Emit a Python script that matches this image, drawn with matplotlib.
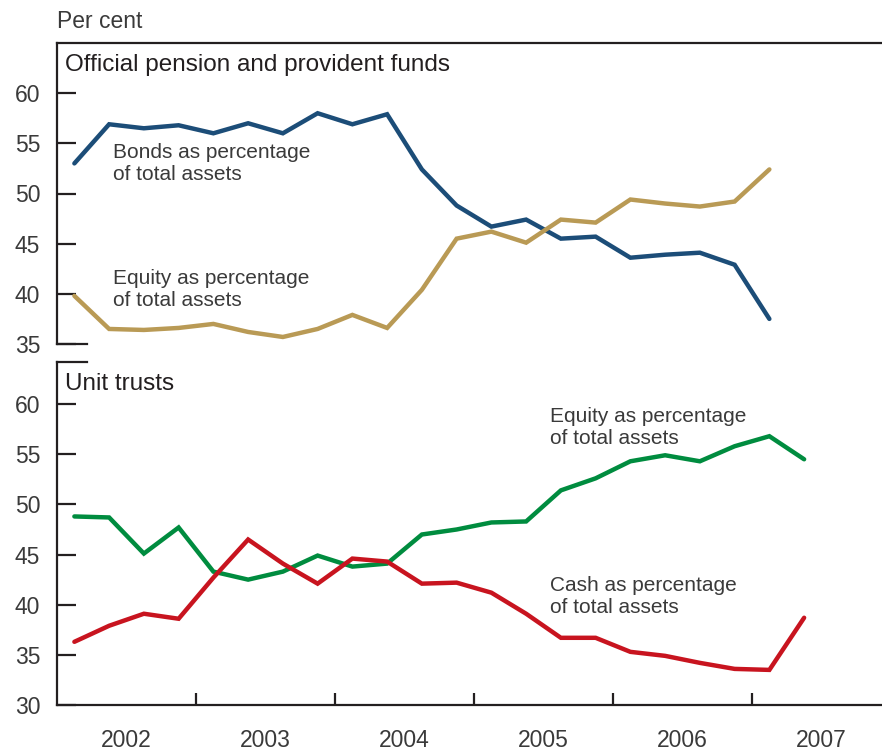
import numpy as np
import matplotlib
matplotlib.use('Agg')
import matplotlib.pyplot as plt

plt.rcParams['font.family'] = ['Liberation Sans', 'DejaVu Sans']

# quarterly observations, 2002 Q1 onwards
quarters_top = ['2002Q1', '2002Q2', '2002Q3', '2002Q4', '2003Q1', '2003Q2', '2003Q3',
                '2003Q4', '2004Q1', '2004Q2', '2004Q3', '2004Q4', '2005Q1', '2005Q2',
                '2005Q3', '2005Q4', '2006Q1', '2006Q2', '2006Q3', '2006Q4', '2007Q1']
quarters_bottom = quarters_top + ['2007Q2']

# official pension and provident funds
pension_bonds = [53.0, 56.9, 56.5, 56.8, 56.0, 57.0, 56.0, 58.0, 56.9, 57.9, 52.4,
                 48.8, 46.7, 47.4, 45.5, 45.7, 43.6, 43.9, 44.1, 42.9, 37.5]
pension_equity = [39.8, 36.5, 36.4, 36.6, 37.0, 36.2, 35.7, 36.5, 37.9, 36.6, 40.4,
                  45.5, 46.2, 45.1, 47.4, 47.1, 49.4, 49.0, 48.7, 49.2, 52.4]

# unit trusts
unit_equity = [48.8, 48.7, 45.1, 47.7, 43.3, 42.5, 43.3, 44.9, 43.8, 44.1, 47.0,
               47.5, 48.2, 48.3, 51.4, 52.6, 54.3, 54.9, 54.3, 55.8, 56.8, 54.5]
unit_cash = [36.3, 37.9, 39.1, 38.6, 42.7, 46.5, 44.1, 42.1, 44.6, 44.3, 42.1,
             42.2, 41.2, 39.1, 36.7, 36.7, 35.3, 34.9, 34.2, 33.6, 33.5, 38.7]

years = ['2002', '2003', '2004', '2005', '2006', '2007']


def to_year(q):
    # middle of the quarter
    return int(q[:4]) + (int(q[-1]) - 0.5) / 4.0


BLUE = '#1c4d78'
GOLD = '#b99a55'
GREEN = '#008c3f'
RED = '#c8141f'
INK = '#231f20'
TXT = '#3a3a3a'

W, H = 882.0, 751.0
fig = plt.figure(figsize=(W / 100, H / 100), dpi=100)
ax1 = fig.add_axes([57 / W, 1 - 344 / H, 825 / W, 301 / H])
ax2 = fig.add_axes([57 / W, 1 - 705 / H, 825 / W, 343 / H])

xlim = (2002.0, 2002.0 + 825 / 139.0)

x_top = [to_year(q) for q in quarters_top]
x_bot = [to_year(q) for q in quarters_bottom]

lk = dict(lw=3.2, solid_capstyle='round', solid_joinstyle='miter')
ax1.plot(x_top, pension_bonds, color=BLUE, **lk)
ax1.plot(x_top, pension_equity, color=GOLD, **lk)
ax2.plot(x_bot, unit_equity, color=GREEN, **lk)
ax2.plot(x_bot, unit_cash, color=RED, **lk)

for ax in (ax1, ax2):
    ax.set_xlim(*xlim)
    ax.spines['right'].set_visible(False)
    for s in ax.spines.values():
        s.set_color(INK)
        s.set_linewidth(1.6)
    ax.tick_params(axis='y', direction='in', length=14, width=1.6, color=INK,
                   labelsize=16.5, labelcolor=TXT, pad=12)
    ax.set_yticks([30, 35, 40, 45, 50, 55, 60])
    ax.patch.set_alpha(0)

ax1.set_ylim(35, 65)
ax2.set_ylim(30, 64.2)
ax1.spines['bottom'].set_visible(False)
ax2.spines['top'].set_visible(False)

# short stubs closing the two panels
ax1.axhline(35, xmin=0, xmax=30 / 825, color=INK, lw=1.6, clip_on=False)
ax2.axhline(64.2, xmin=0, xmax=30 / 825, color=INK, lw=1.6, clip_on=False)

ax1.set_xticks([])
year_pos = [int(y) for y in years]
ax2.set_xticks(year_pos[1:])
ax2.set_xticklabels([])
ax2.tick_params(axis='x', which='major', direction='in', length=9, width=1.6, color=INK)
ax2.set_xticks([y + 0.5 for y in year_pos], minor=True)
ax2.set_xticklabels(years, minor=True)
ax2.tick_params(axis='x', which='minor', length=0, labelsize=16.5, labelcolor=TXT, pad=17.5)

fig.text(57 / W, 1 - 21 / H, 'Per cent', fontsize=16.5, color=TXT, va='center', ha='left')
ax1.text(8 / 825, 1 - 22 / 301, 'Official pension and provident funds', transform=ax1.transAxes,
         fontsize=17.5, color=INK, va='center', ha='left')
ax2.text(8 / 825, 1 - 22 / 343, 'Unit trusts', transform=ax2.transAxes,
         fontsize=17.5, color=INK, va='center', ha='left')

ann = dict(fontsize=15, color=TXT, va='center', ha='left', linespacing=1.2)
ax1.text(2002.4, 53.0, 'Bonds as percentage\nof total assets', **ann)
ax1.text(2002.4, 40.4, 'Equity as percentage\nof total assets', **ann)
ax2.text(2005.55, 57.7, 'Equity as percentage\nof total assets', **ann)
ax2.text(2005.55, 40.8, 'Cash as percentage\nof total assets', **ann)

fig.savefig('out.png', dpi=100)
